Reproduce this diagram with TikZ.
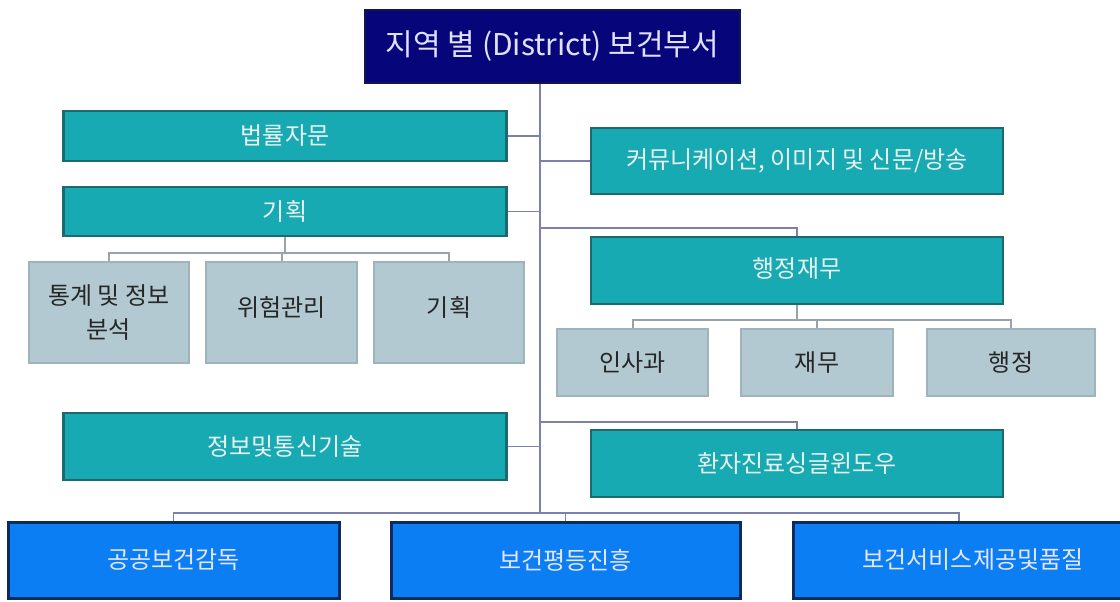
\documentclass[tikz,border=0pt]{standalone}
\usepackage{fontspec}
\newfontfamily\kr{Noto Sans CJK KR}
\definecolor{navyfill}{HTML}{06067A}
\definecolor{navyline}{HTML}{15154A}
\definecolor{tealfill}{HTML}{18AAB2}
\definecolor{tealline}{HTML}{1C6A70}
\definecolor{greyfill}{HTML}{B3C9D1}
\definecolor{greyline}{HTML}{9FB3BA}
\definecolor{bluefill}{HTML}{0A7EF2}
\definecolor{blueline}{HTML}{0B2B5C}
\definecolor{trunkcol}{HTML}{7C80AC}
\definecolor{subcol}{HTML}{98A4AA}
\definecolor{lighttext}{HTML}{E8F2F2}
\tikzset{
  box/.style={rectangle, inner sep=0pt, align=center, font=\kr\fontsize{24}{34}\selectfont},
  topbox/.style={box, fill=navyfill, draw=navyline, line width=2pt, text=white!88!blue, font=\kr\fontsize{30}{34}\selectfont},
  tealbox/.style={box, fill=tealfill, draw=tealline, line width=2.5pt, text=lighttext},
  greybox/.style={box, fill=greyfill, draw=greyline, line width=1.5pt, text=black!85},
  bluebox/.style={box, fill=bluefill, draw=blueline, line width=3pt, text=white!90!blue},
  trunk/.style={draw=trunkcol, line width=1.5pt},
  sub/.style={draw=subcol, line width=2pt},
}
\begin{document}
\begin{tikzpicture}[x=1pt,y=-1pt]
\useasboundingbox (0,0) rectangle (1120,602);
% top
\node[topbox, minimum width=375pt, minimum height=73pt] (top) at (552.5,46.5) {\raisebox{-10pt}{지역 별 (District) 보건부서}};
% left teal
\node[tealbox, minimum width=443pt, minimum height=50pt] (law) at (285,136) {법률자문};
\node[tealbox, minimum width=443pt, minimum height=49pt] (plan) at (285,211.5) {기획};
\node[tealbox, minimum width=443pt, minimum height=67pt] (ict) at (285,446.5) {정보및통신기술};
% right teal
\node[tealbox, minimum width=412pt, minimum height=66pt] (comm) at (797,161) {커뮤니케이션, 이미지 및 신문/방송};
\node[tealbox, minimum width=412pt, minimum height=67pt] (admin) at (797,270.5) {\raisebox{6pt}{행정재무}};
\node[tealbox, minimum width=412pt, minimum height=67pt] (patient) at (797,463.5) {환자진료싱글윈도우};
% grey
\node[greybox, minimum width=160pt, minimum height=101pt] (stat) at (109,312.5) {\raisebox{6pt}{\parbox{150pt}{\centering 통계 및 정보\\분석}}};
\node[greybox, minimum width=151pt, minimum height=101pt] (risk) at (281.5,312.5) {\raisebox{12pt}{위험관리}};
\node[greybox, minimum width=150pt, minimum height=101pt] (plan2) at (449,312.5) {\raisebox{12pt}{기획}};
\node[greybox, minimum width=151pt, minimum height=67pt] (hr) at (632.5,362.5) {\raisebox{-6pt}{인사과}};
\node[greybox, minimum width=152pt, minimum height=67pt] (fin) at (817,362.5) {재무};
\node[greybox, minimum width=168pt, minimum height=67pt] (gen) at (1011,362.5) {\raisebox{-8pt}{행정}};
% bottom blue
\node[bluebox, minimum width=331pt, minimum height=76pt] (pub) at (173.5,560) {공공보건감독};
\node[bluebox, minimum width=349pt, minimum height=76pt] (eq) at (565.5,560) {보건평등진흥};
\node[bluebox, minimum width=332pt, minimum height=76pt] (svc) at (959,560) {\hspace*{28pt}보건서비스제공및품질};
% junctions
\coordinate (tb) at (540,513);
\coordinate (adminj) at (540,228);
\coordinate (patientj) at (540,422);
\coordinate (pj) at (285,253);
\coordinate (aj) at (797,320);
% trunk
\draw[trunk] (top.south -| tb) -- (tb);
\draw[trunk] (law.east) -- (law.east -| tb);
\draw[trunk] (plan.east) -- (plan.east -| tb);
\draw[trunk] (ict.east) -- (ict.east -| tb);
\draw[trunk] (comm.west -| tb) -- (comm.west);
\draw[trunk] (adminj) -| (admin.north);
\draw[trunk] (patientj) -| (patient.north);
\draw[trunk] (pub.north) |- (tb) -| (svc.north);
\draw[trunk] (eq.north) -- (eq.north |- tb);
% sub branches
\draw[sub] (plan.south) -- (pj);
\draw[sub] (stat.north) |- (pj) -| (plan2.north);
\draw[sub] (risk.north) -- (risk.north |- pj);
\draw[sub] (admin.south) -- (aj);
\draw[sub] (hr.north) |- (aj) -| (gen.north);
\draw[sub] (fin.north) -- (fin.north |- aj);
\end{tikzpicture}
\end{document}
